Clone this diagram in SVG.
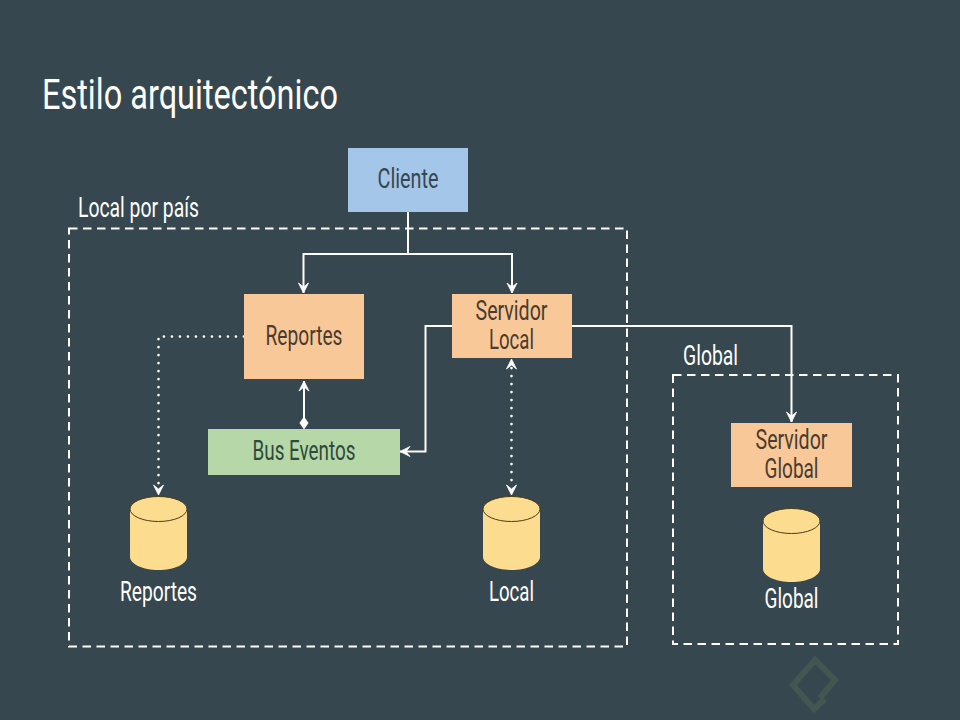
<svg xmlns="http://www.w3.org/2000/svg" width="960" height="720" viewBox="0 0 960 720">
<style>
text{font-family:"Roboto","Liberation Sans",sans-serif;text-anchor:middle}
.w{fill:#fff}
.d{fill:#4a3b30}
.t{font-size:27px}
.box{stroke:none}
.orange{fill:#f9c898}
.frame{fill:none;stroke:#fff;stroke-width:2;stroke-dasharray:8.5 5.5}
.line{fill:none;stroke:#fff;stroke-width:2}
.dot{fill:none;stroke:#fff;stroke-width:2.6;stroke-linecap:round;stroke-dasharray:0.1 7.9}
.cyl{fill:#fcdc8f;stroke:none}
.rim{fill:#fcdc8f;stroke:#4d3b12;stroke-width:1}
</style>
<defs>
<marker id="a" viewBox="0 0 12 12" refX="11" refY="6" markerWidth="12" markerHeight="12" markerUnits="userSpaceOnUse" orient="auto-start-reverse"><path d="M1 1 L11 6 L1 11 L5 6Z" fill="#fff" stroke="#fff" stroke-width="0.8" stroke-linejoin="round"/></marker>
<marker id="dm" viewBox="0 0 12 14" refX="6" refY="7" markerWidth="12" markerHeight="14" markerUnits="userSpaceOnUse"><path d="M6 0.500 L10.500 7 L6 13.500 L1.500 7Z" fill="#fff"/></marker>
</defs>
<rect width="960" height="720" fill="#37474f"/>
<text id="title" class="w" x="190" y="109" font-size="43" textLength="296" lengthAdjust="spacingAndGlyphs">Estilo arquitectónico</text>

<g id="frames">
<rect id="frame-local" class="frame" x="69" y="228.500" width="558" height="418"/>
<text class="w t" x="138.500" y="217" textLength="121" lengthAdjust="spacingAndGlyphs">Local por país</text>
<rect id="frame-global" class="frame" x="673" y="375" width="225" height="269"/>
<text class="w t" x="710.500" y="365" textLength="55" lengthAdjust="spacingAndGlyphs">Global</text>
</g>

<g id="connectors">
<path class="line" marker-end="url(#a)" d="M408 212V254H303.500V293"/>
<path class="line" marker-end="url(#a)" d="M408 212V254H512V293"/>
<path class="line" marker-start="url(#a)" marker-end="url(#dm)" d="M304 381V423"/>
<path class="line" marker-end="url(#a)" d="M452 326H425.500V451.500H400"/>
<path class="line" marker-end="url(#a)" d="M572 326H791.500V422"/>
<path class="dot" d="M244 336.500H158.500V488"/>
<path class="line" stroke-dasharray="0 100" marker-end="url(#a)" d="M158.500 480V495"/>
<path class="dot" d="M511.500 368V488"/>
<path class="line" stroke-dasharray="0 100" marker-end="url(#a)" d="M511.500 480V495"/>
<path class="line" stroke-dasharray="0 100" marker-end="url(#a)" d="M511.500 372V359"/>
</g>

<g id="cliente"><rect class="box" x="348" y="148" width="120" height="64" fill="#a4c6e8"/><text class="t" fill="#37474f" x="408" y="188" textLength="61" lengthAdjust="spacingAndGlyphs">Cliente</text></g>
<g id="reportes"><rect class="box orange" x="244" y="294" width="120" height="85"/><text class="t d" x="304" y="345" textLength="77" lengthAdjust="spacingAndGlyphs">Reportes</text></g>
<g id="servidor-local"><rect class="box orange" x="452" y="294" width="120" height="64"/><text class="t d" x="511.500" y="320" textLength="72" lengthAdjust="spacingAndGlyphs">Servidor</text><text class="t d" x="511.500" y="349" textLength="45" lengthAdjust="spacingAndGlyphs">Local</text></g>
<g id="bus-eventos"><rect class="box" x="208" y="429" width="192" height="46" fill="#b6d7a8"/><text class="t" fill="#2f4a3c" x="304" y="460" textLength="103" lengthAdjust="spacingAndGlyphs">Bus Eventos</text></g>
<g id="servidor-global"><rect class="box orange" x="731" y="423" width="121" height="64"/><text class="t d" x="791.500" y="449" textLength="72" lengthAdjust="spacingAndGlyphs">Servidor</text><text class="t d" x="791.500" y="478" textLength="54" lengthAdjust="spacingAndGlyphs">Global</text></g>

<g id="db-reportes"><path class="cyl" d="M130 509V557C130 564 143 570 158.500 570S187 564 187 557V509Z"/><ellipse class="rim" cx="158.500" cy="509" rx="28.500" ry="12.500"/><text class="w t" x="158.500" y="601" textLength="77" lengthAdjust="spacingAndGlyphs">Reportes</text></g>
<g id="db-local"><path class="cyl" d="M483 509V557C483 564 496 570 511.500 570S540 564 540 557V509Z"/><ellipse class="rim" cx="511.500" cy="509" rx="28.500" ry="12.500"/><text class="w t" x="511.500" y="601" textLength="45" lengthAdjust="spacingAndGlyphs">Local</text></g>
<g id="db-global"><path class="cyl" d="M763 521V569C763 576 776 582 791.500 582S820 576 820 569V521Z"/><ellipse class="rim" cx="791.500" cy="521" rx="28.500" ry="12.500"/><text class="w t" x="791.500" y="608" textLength="54" lengthAdjust="spacingAndGlyphs">Global</text></g>

<path id="watermark" d="M820 698L835 680L815 660L793 685L814 709L825 699" fill="none" stroke="#43564f" stroke-width="6"/>
</svg>
